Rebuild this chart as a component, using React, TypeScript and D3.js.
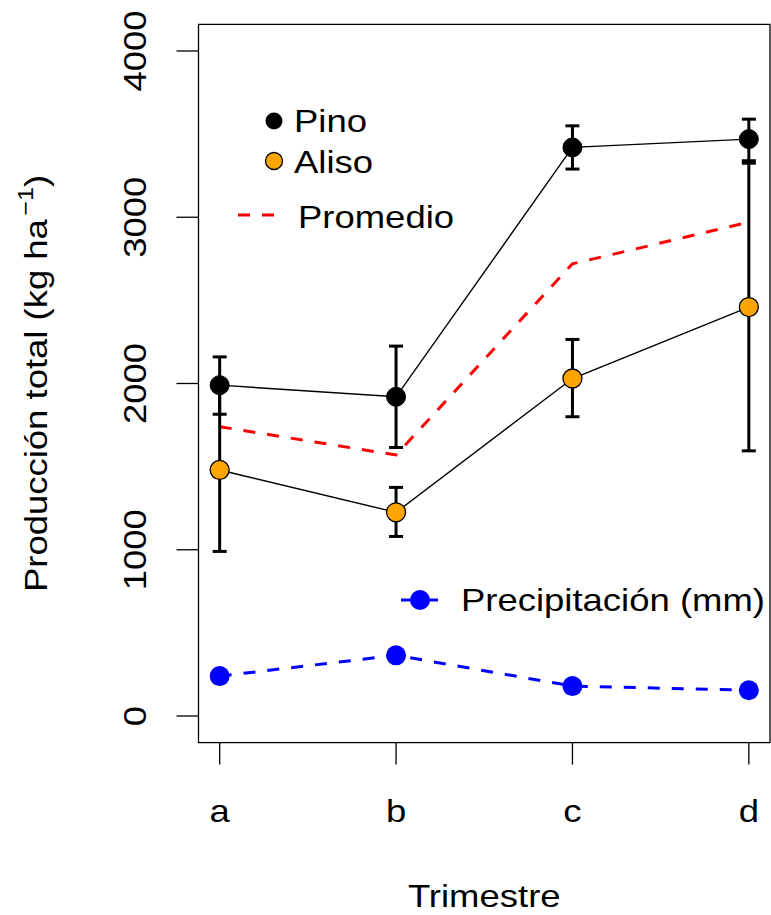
import React from 'react';
import * as d3 from 'd3';

const categories = ['a', 'b', 'c', 'd'];
const pino = [1990, 1920, 3420, 3470];
const pinoLow = [1815, 1615, 3290, 3340];
const pinoHigh = [2160, 2225, 3550, 3590];
const aliso = [1480, 1225, 2030, 2460];
const alisoLow = [990, 1080, 1800, 1595];
const alisoHigh = [1970, 1375, 2265, 3325];
const promedio = [1740, 1570, 2720, 2970];
const precipitacion = [240, 365, 180, 155];
const yTicks = [0, 1000, 2000, 3000, 4000];

const W = 771;
const H = 915;
const left = 198.5;
const right = 770;
const top = 24.4;
const bottom = 742.6;
const font = '"Liberation Sans", Arial, Helvetica, sans-serif';
// reference glyphs are a bit wider than Liberation Sans at the same height
const stretch = 1.14;

type LabelProps = {
  x: number;
  y: number;
  rotate?: number;
  anchor?: 'start' | 'middle' | 'end';
  children: React.ReactNode;
};

function Label({ x, y, rotate = 0, anchor = 'start', children }: LabelProps) {
  return (
    <text
      transform={`translate(${x},${y}) rotate(${rotate}) scale(${stretch},1)`}
      textAnchor={anchor}
      fontSize={32}
    >
      {children}
    </text>
  );
}

export default function App() {
  // R-style 4% padding on both axes
  const x = d3.scaleLinear().domain([0.88, 4.12]).range([left, right]);
  const y = d3.scaleLinear().domain([-160, 4160]).range([bottom, top]);

  const line = d3
    .line<number>()
    .x((_, i) => x(i + 1))
    .y((d) => y(d));

  const errorBars = (lo: number[], hi: number[], key: string) =>
    lo.map((l, i) => {
      const cx = x(i + 1);
      return (
        <g key={key + i} stroke="#000" strokeWidth={3}>
          <line x1={cx} x2={cx} y1={y(l)} y2={y(hi[i])} />
          <line x1={cx - 7} x2={cx + 7} y1={y(l)} y2={y(l)} />
          <line x1={cx - 7} x2={cx + 7} y1={y(hi[i])} y2={y(hi[i])} />
        </g>
      );
    });

  return (
    <svg
      width={W}
      height={H}
      style={{ position: 'absolute', left: 0, top: 0, background: '#fff' }}
      fontFamily={font}
    >
      {/* frame */}
      <rect x={left} y={top} width={right - left} height={bottom - top} fill="none" stroke="#000" strokeWidth={1.3} />

      {/* y axis */}
      {yTicks.map((t) => (
        <g key={'yt' + t}>
          <line x1={left - 22} x2={left} y1={y(t)} y2={y(t)} stroke="#000" strokeWidth={1.3} />
          <Label x={146} y={y(t)} rotate={-90} anchor="middle">
            {t}
          </Label>
        </g>
      ))}

      {/* x axis */}
      {categories.map((c, i) => (
        <g key={'xt' + c}>
          <line x1={x(i + 1)} x2={x(i + 1)} y1={bottom} y2={bottom + 22} stroke="#000" strokeWidth={1.3} />
          <Label x={x(i + 1)} y={822} anchor="middle">
            {c}
          </Label>
        </g>
      ))}

      <Label x={(left + right) / 2} y={907} anchor="middle">
        Trimestre
      </Label>
      <Label x={47} y={(top + bottom) / 2} rotate={-90} anchor="middle">
        Producción total (kg ha
        <tspan fontSize={22} dy={-14} dx={3}>
          −1
        </tspan>
        <tspan dy={14}>)</tspan>
      </Label>

      {/* promedio */}
      <path d={line(promedio) ?? ''} fill="none" stroke="#ff0000" strokeWidth={3} strokeDasharray="12 12" />

      {/* series lines */}
      <path d={line(pino) ?? ''} fill="none" stroke="#000" strokeWidth={1.4} />
      <path d={line(aliso) ?? ''} fill="none" stroke="#000" strokeWidth={1.4} />

      {errorBars(pinoLow, pinoHigh, 'p')}
      {errorBars(alisoLow, alisoHigh, 'a')}

      {pino.map((v, i) => (
        <circle key={'pp' + i} cx={x(i + 1)} cy={y(v)} r={9.5} fill="#000" stroke="#000" strokeWidth={1} />
      ))}
      {aliso.map((v, i) => (
        <circle key={'ap' + i} cx={x(i + 1)} cy={y(v)} r={9.5} fill="#ffa500" stroke="#000" strokeWidth={1.3} />
      ))}

      {/* precipitacion */}
      <path d={line(precipitacion) ?? ''} fill="none" stroke="#0000ff" strokeWidth={3} strokeDasharray="12 12" />
      {precipitacion.map((v, i) => (
        <circle key={'pr' + i} cx={x(i + 1)} cy={y(v)} r={10} fill="#0000ff" />
      ))}

      {/* legend */}
      <circle cx={274} cy={121} r={8.5} fill="#000" />
      <Label x={294} y={132}>Pino</Label>
      <circle cx={274} cy={161} r={8.5} fill="#ffa500" stroke="#000" strokeWidth={1.3} />
      <Label x={294} y={173}>Aliso</Label>
      <line x1={238} x2={274} y1={215} y2={215} stroke="#ff0000" strokeWidth={3} strokeDasharray="12 12" />
      <Label x={298} y={228}>Promedio</Label>

      <line x1={401} x2={438} y1={600} y2={600} stroke="#0000ff" strokeWidth={3} />
      <circle cx={420} cy={600} r={10} fill="#0000ff" />
      <Label x={461} y={611}>Precipitación (mm)</Label>
    </svg>
  );
}
